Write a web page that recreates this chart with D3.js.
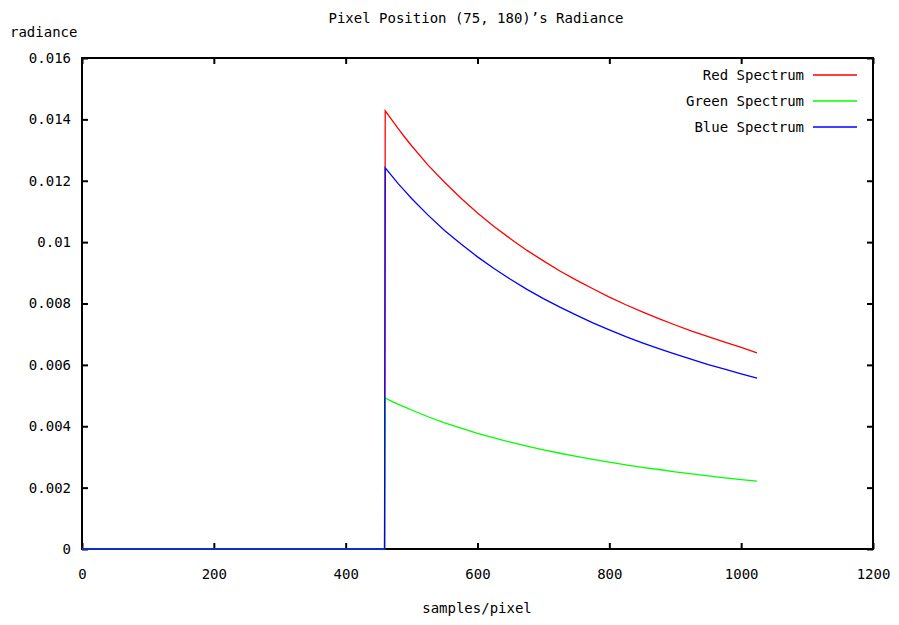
<!DOCTYPE html>
<html>
<head>
<meta charset="utf-8">
<script src="https://d3js.org/d3.v7.min.js"></script>
<style>
  body { margin: 0; background: #fff; }
  text { font-family: "DejaVu Sans Mono", "Liberation Mono", monospace; font-size: 14px; fill: #000; }
</style>
</head>
<body>
<div id="chart"></div>
<script>
// samples per pixel (x), radiance
var samples = [0, 459, 460, 470, 480, 490, 500, 525, 550, 575, 600, 625, 650, 675, 700, 725, 750, 775, 800, 825, 850, 875, 900, 925, 950, 975, 1000, 1024];
var redSpectrum   = [0, 0, 0.01428, 0.01398, 0.01369, 0.01341, 0.01314, 0.01251, 0.01195, 0.01143, 0.01095, 0.01051, 0.01011, 0.00973, 0.00939, 0.00906, 0.00876, 0.00848, 0.00821, 0.00796, 0.00773, 0.00751, 0.00730, 0.00710, 0.00692, 0.00674, 0.00657, 0.00639];
var greenSpectrum = [0, 0, 0.00492, 0.00481, 0.00471, 0.00462, 0.00453, 0.00431, 0.00411, 0.00394, 0.00377, 0.00362, 0.00348, 0.00335, 0.00323, 0.00312, 0.00302, 0.00292, 0.00283, 0.00274, 0.00266, 0.00259, 0.00251, 0.00245, 0.00238, 0.00232, 0.00226, 0.00221];
var blueSpectrum  = [0, 0, 0.01242, 0.01216, 0.01190, 0.01166, 0.01142, 0.01088, 0.01038, 0.00994, 0.00952, 0.00914, 0.00879, 0.00846, 0.00816, 0.00788, 0.00762, 0.00737, 0.00714, 0.00692, 0.00672, 0.00653, 0.00635, 0.00618, 0.00601, 0.00586, 0.00571, 0.00557];
var seriesNames = ["Red Spectrum", "Green Spectrum", "Blue Spectrum"];
var seriesColors = ["#ff0000", "#00ff00", "#0000ff"];
var xTicks = [0, 200, 400, 600, 800, 1000, 1200];
var yTicks = [0, 0.002, 0.004, 0.006, 0.008, 0.01, 0.012, 0.014, 0.016];

var width = 899, height = 625;
var margin = {left: 82, right: 26, top: 58, bottom: 76};

var svg = d3.select("#chart").append("svg")
  .attr("width", width)
  .attr("height", height);

var x = d3.scaleLinear().domain([0, 1200]).range([margin.left, width - margin.right]);
var y = d3.scaleLinear().domain([0, 0.016]).range([height - margin.bottom, margin.top]);

var fmtY = function (d) { return d === 0 ? "0" : String(+d.toFixed(3)); };

// frame first, so the zero line sits on top of it like in gnuplot
svg.append("rect")
  .attr("x", x(0)).attr("y", y(0.016))
  .attr("width", x(1200) - x(0)).attr("height", y(0) - y(0.016))
  .attr("fill", "none").attr("stroke", "#000").attr("stroke-width", 2);

// ticks, gnuplot style (inward, mirrored)
var tl = 6;
svg.append("g").attr("transform", "translate(0," + y(0) + ")")
  .call(d3.axisBottom(x).tickValues(xTicks).tickSize(-tl).tickPadding(20).tickFormat(d3.format("d")))
  .call(function (g) { g.select(".domain").remove(); });
svg.append("g").attr("transform", "translate(0," + y(0.016) + ")")
  .call(d3.axisTop(x).tickValues(xTicks).tickSize(-tl).tickFormat(""))
  .call(function (g) { g.select(".domain").remove(); });
svg.append("g").attr("transform", "translate(" + x(0) + ",0)")
  .call(d3.axisLeft(y).tickValues(yTicks).tickSize(-tl).tickPadding(11).tickFormat(fmtY))
  .call(function (g) { g.select(".domain").remove(); });
svg.append("g").attr("transform", "translate(" + x(1200) + ",0)")
  .call(d3.axisRight(y).tickValues(yTicks).tickSize(-tl).tickFormat(""))
  .call(function (g) { g.select(".domain").remove(); });

svg.selectAll(".tick line").attr("stroke", "#000").attr("stroke-width", 2);
svg.selectAll(".tick text")
  .style("font-family", "'DejaVu Sans Mono', monospace")
  .style("font-size", "14px")
  .attr("fill", "#000");

// data lines
var allSeries = [redSpectrum, greenSpectrum, blueSpectrum];
var line = d3.line()
  .x(function (d, i) { return x(samples[i]); })
  .y(function (d) { return y(d); });

allSeries.forEach(function (s, k) {
  svg.append("path")
    .datum(s)
    .attr("fill", "none")
    .attr("stroke", seriesColors[k])
    .attr("stroke-width", 1.3)
    .attr("d", line);
});

// legend
seriesNames.forEach(function (n, k) {
  var ly = 75 + k * 26;
  svg.append("text")
    .attr("x", 804).attr("y", ly).attr("dy", "0.35em")
    .attr("text-anchor", "end")
    .text(n);
  svg.append("line")
    .attr("x1", 813).attr("x2", 857).attr("y1", ly).attr("y2", ly)
    .attr("stroke", seriesColors[k]).attr("stroke-width", 1.3);
});

// titles
svg.append("text").attr("x", 476).attr("y", 18).attr("dy", "0.35em")
  .attr("text-anchor", "middle").text("Pixel Position (75, 180)\u2019s Radiance");
svg.append("text").attr("x", 10).attr("y", 32).attr("dy", "0.35em")
  .text("radiance");
svg.append("text").attr("x", 477).attr("y", 608).attr("dy", "0.35em")
  .attr("text-anchor", "middle").text("samples/pixel");
</script>
</body>
</html>
